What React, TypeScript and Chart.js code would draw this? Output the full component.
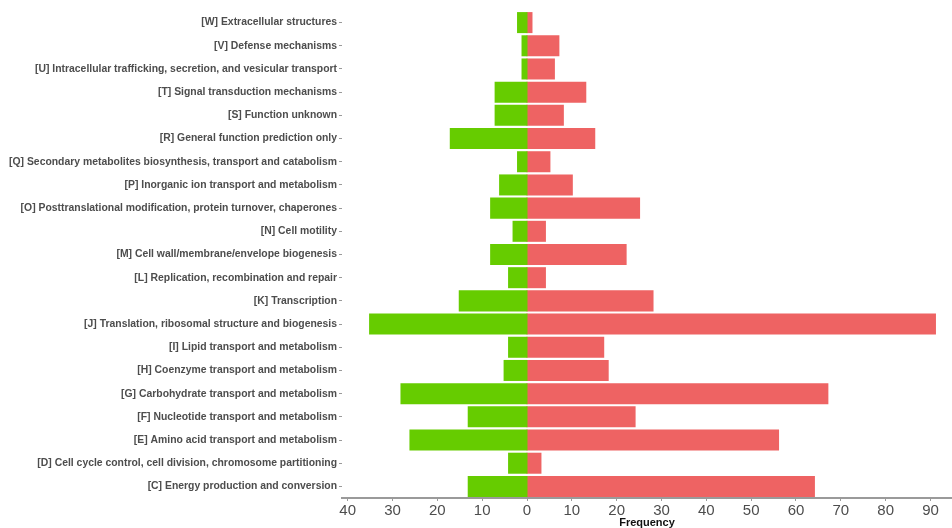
import React, { useEffect, useRef } from "react";
import { Chart, registerables } from "chart.js";

Chart.register(...registerables);

const categories = [
  "[W] Extracellular structures",
  "[V] Defense mechanisms",
  "[U] Intracellular trafficking, secretion, and vesicular transport",
  "[T] Signal transduction mechanisms",
  "[S] Function unknown",
  "[R] General function prediction only",
  "[Q] Secondary metabolites biosynthesis, transport and catabolism",
  "[P] Inorganic ion transport and metabolism",
  "[O] Posttranslational modification, protein turnover, chaperones",
  "[N] Cell motility",
  "[M] Cell wall/membrane/envelope biogenesis",
  "[L] Replication, recombination and repair",
  "[K] Transcription",
  "[J] Translation, ribosomal structure and biogenesis",
  "[I] Lipid transport and metabolism",
  "[H] Coenzyme transport and metabolism",
  "[G] Carbohydrate transport and metabolism",
  "[F] Nucleotide transport and metabolism",
  "[E] Amino acid transport and metabolism",
  "[D] Cell cycle control, cell division, chromosome partitioning",
  "[C] Energy production and conversion",
];

// left side (green), plotted as negative frequencies
const greenValues = [2, 1, 1, 7, 7, 17, 2, 6, 8, 3, 8, 4, 15, 35, 4, 5, 28, 13, 26, 4, 13];
// right side (red)
const redValues = [1, 7, 6, 13, 8, 15, 5, 10, 25, 4, 22, 4, 28, 91, 17, 18, 67, 24, 56, 3, 64];

const xTicks = [-40, -30, -20, -10, 0, 10, 20, 30, 40, 50, 60, 70, 80, 90];

export default function App() {
  const ref = useRef<HTMLCanvasElement | null>(null);

  useEffect(() => {
    if (!ref.current) return;
    const chart = new Chart(ref.current, {
      type: "bar",
      data: {
        labels: categories,
        datasets: [
          {
            label: "green",
            data: greenValues.map((v) => -v),
            backgroundColor: "#66CC00",
            borderWidth: 0,
            inflateAmount: 1,
            barPercentage: 0.82,
            categoryPercentage: 1.0,
          },
          {
            label: "red",
            data: redValues,
            backgroundColor: "#EE6363",
            borderWidth: 0,
            inflateAmount: 1,
            barPercentage: 0.82,
            categoryPercentage: 1.0,
          },
        ],
      },
      options: {
        indexAxis: "y",
        animation: false,
        responsive: false,
        maintainAspectRatio: false,
        layout: { padding: { top: 11, right: 0, bottom: 0, left: 0 } },
        plugins: { legend: { display: false }, tooltip: { enabled: false } },
        scales: {
          x: {
            type: "linear",
            stacked: true,
            min: -41.266,
            max: 94.8,
            afterBuildTicks: (scale: any) => {
              scale.ticks = xTicks.map((v) => ({ value: v }));
            },
            afterFit: (scale: any) => {
              scale.height = 30;
            },
            ticks: {
              callback: (v: any) => String(Math.abs(Number(v))),
              color: "#4d4d4d",
              font: { family: "Liberation Sans, Arial, sans-serif", size: 15 },
              padding: 1,
              maxRotation: 0,
              autoSkip: false,
            },
            grid: { display: true, drawOnChartArea: false, drawTicks: true, tickLength: 3, color: "#9a9a9a" },
            border: { display: true, color: "#9a9a9a", width: 2 },
            title: {
              display: true,
              text: "Frequency",
              color: "#111111",
              font: { family: "Liberation Sans, Arial, sans-serif", size: 11, weight: "bold" },
              padding: { top: 0, bottom: -2 },
            },
          },
          y: {
            type: "category",
            stacked: true,
            afterFit: (scale: any) => {
              scale.width = 342;
            },
            ticks: {
              color: "#4d4d4d",
              font: { family: "Liberation Sans, Arial, sans-serif", size: 10.4, weight: "bold" },
              padding: 2,
              autoSkip: false,
            },
            grid: { display: true, offset: false, drawOnChartArea: false, drawTicks: true, tickLength: 3, color: "#9a9a9a" },
            border: { display: false },
          },
        },
      },
    });
    return () => chart.destroy();
  }, []);

  return (
    <div style={{ position: "fixed", left: 0, top: 0, width: 952, height: 528, background: "#fff" }}>
      <canvas ref={ref} width={952} height={528} style={{ width: 952, height: 528, display: "block" }} />
    </div>
  );
}
